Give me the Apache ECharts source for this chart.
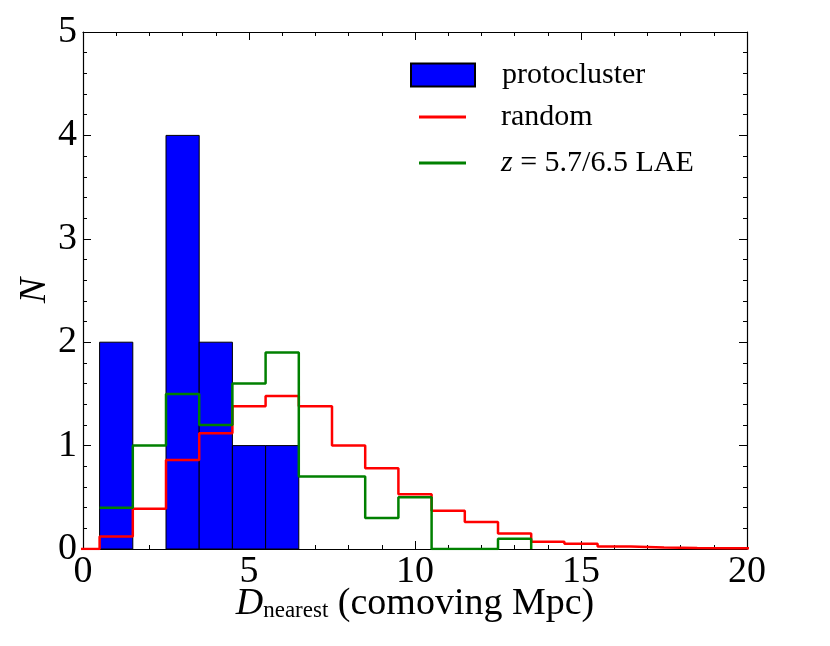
<!DOCTYPE html>
<html>
<head>
<meta charset="utf-8">
<script src="https://cdn.jsdelivr.net/npm/echarts@6/dist/echarts.min.js"></script>
<style>html,body{margin:0;padding:0;background:#fff}#c{width:830px;height:646px}</style>
</head>
<body>
<div id="c"></div>
<script>
// ---- data ----
const binWidth = 1;
const protoCenters = [1, 3, 4, 5, 6];
const protoCounts  = [2, 4, 2, 1, 1];

const randomCenters = [0, 1, 2, 3, 4, 5, 6, 7, 8, 9, 10, 11, 12, 13, 14, 15, 16, 17, 18, 19, 20];
const randomValues  = [0, 0.12, 0.39, 0.86, 1.12, 1.38, 1.48, 1.38, 1.0, 0.78, 0.53, 0.37, 0.26, 0.15, 0.07, 0.05, 0.025, 0.015, 0.01, 0.008, 0.005];

const laeCenters = [1, 2, 3, 4, 5, 6, 7, 8, 9, 10, 11, 12, 13];
const laeValues  = [0.4, 1.0, 1.5, 1.2, 1.6, 1.9, 0.7, 0.7, 0.3, 0.5, 0, 0, 0.1];

const xTicks = [0, 5, 10, 15, 20];
const yTicks = [0, 1, 2, 3, 4, 5];

const seriesNames = ['protocluster', 'random', 'z = 5.7/6.5 LAE'];

// ---- helpers ----
function stepData(centers, values) {
  const pts = centers.map((c, i) => [c - binWidth / 2, values[i]]);
  pts.push([centers[centers.length - 1] + binWidth / 2, 0]);
  return pts;
}

const FONT = 'Liberation Serif';

function axisCommon(showLabel) {
  return {
    type: 'value',
    nameMoveOverlap: false,
    axisLine: { show: true, onZero: false, lineStyle: { color: '#000', width: 1.2 } },
    axisTick: { show: true, inside: true, length: 8, lineStyle: { color: '#000', width: 1 } },
    minorTick: { show: true, splitNumber: 5, length: 4, lineStyle: { color: '#000', width: 1 } },
    splitLine: { show: false },
    minorSplitLine: { show: false },
    axisLabel: { show: showLabel, fontFamily: FONT, fontSize: 38, color: '#000', showMinLabel: true, showMaxLabel: true }
  };
}

const xStep = xTicks[1] - xTicks[0];
const yStep = yTicks[1] - yTicks[0];

const xBottom = Object.assign(axisCommon(true), {
  position: 'bottom', min: xTicks[0], max: xTicks[xTicks.length - 1], interval: xStep,
  name: '{i|D}{s|nearest} (comoving Mpc)', nameLocation: 'middle', nameGap: 36,
  nameTextStyle: {
    fontFamily: FONT, fontSize: 38, color: '#000',
    rich: {
      i: { fontFamily: FONT, fontSize: 38, fontStyle: 'italic', color: '#000' },
      s: { fontFamily: FONT, fontSize: 23, color: '#000', padding: [14, 0, 0, 0] }
    }
  }
});
xBottom.axisLabel.margin = 4;
const xTop = Object.assign(axisCommon(false), {
  position: 'top', min: xTicks[0], max: xTicks[xTicks.length - 1], interval: xStep
});
const yLeft = Object.assign(axisCommon(true), {
  position: 'left', min: yTicks[0], max: yTicks[yTicks.length - 1], interval: yStep,
  name: 'N', nameLocation: 'middle', nameGap: 29, nameRotate: 90,
  nameTextStyle: { fontFamily: FONT, fontSize: 38, fontStyle: 'italic', color: '#000' }
});
yLeft.axisLabel.margin = 6;
const yRight = Object.assign(axisCommon(false), {
  position: 'right', min: yTicks[0], max: yTicks[yTicks.length - 1], interval: yStep
});

const chart = echarts.init(document.getElementById('c'), null, { renderer: 'canvas' });
chart.setOption({
  animation: false,
  backgroundColor: '#fff',
  grid: { left: 83, right: 83, top: 32, bottom: 97, containLabel: false },
  xAxis: [xBottom, xTop],
  yAxis: [yLeft, yRight],
  legend: [
    {
      data: [seriesNames[0]], left: 410, top: 60, padding: 0,
      itemWidth: 64, itemHeight: 23, icon: 'rect', selectedMode: false,
      textStyle: { fontFamily: FONT, fontSize: 30, color: '#000', padding: [0, 0, 0, 22] }
    },
    {
      data: [seriesNames[1], seriesNames[2]], left: 419, top: 102, padding: 0, orient: 'vertical',
      itemWidth: 47, itemHeight: 3, itemGap: 16, selectedMode: false, icon: 'rect',
      formatter: function (n) { return n === seriesNames[2] ? '{i|z} = 5.7/6.5 LAE' : n; },
      textStyle: {
        fontFamily: FONT, fontSize: 30, color: '#000', lineHeight: 30, padding: [0, 0, 0, 30],
        rich: { i: { fontFamily: FONT, fontSize: 30, fontStyle: 'italic', color: '#000' } }
      }
    }
  ],
  series: [
    {
      name: seriesNames[0], type: 'custom', xAxisIndex: 0, yAxisIndex: 0, z: 1,
      itemStyle: { color: '#0000ff', borderColor: '#000', borderWidth: 1 },
      encode: { x: 0, y: 1 },
      data: protoCenters.map((c, i) => [c, protoCounts[i]]),
      renderItem: function (params, api) {
        const c = api.value(0), v = api.value(1);
        const p0 = api.coord([c - binWidth / 2, v]);
        const p1 = api.coord([c + binWidth / 2, 0]);
        return {
          type: 'rect',
          shape: { x: p0[0], y: p0[1], width: p1[0] - p0[0], height: p1[1] - p0[1] },
          style: { fill: '#0000ff', stroke: '#000', lineWidth: 1 }
        };
      }
    },
    {
      name: seriesNames[1], type: 'line', step: 'end', symbol: 'none', z: 3,
      lineStyle: { color: '#ff0000', width: 2.5 }, itemStyle: { color: '#ff0000' },
      data: stepData(randomCenters, randomValues)
    },
    {
      name: seriesNames[2], type: 'line', step: 'end', symbol: 'none', z: 4,
      lineStyle: { color: '#008000', width: 2.5 }, itemStyle: { color: '#008000' },
      data: stepData(laeCenters, laeValues)
    }
  ]
});
</script>
</body>
</html>
